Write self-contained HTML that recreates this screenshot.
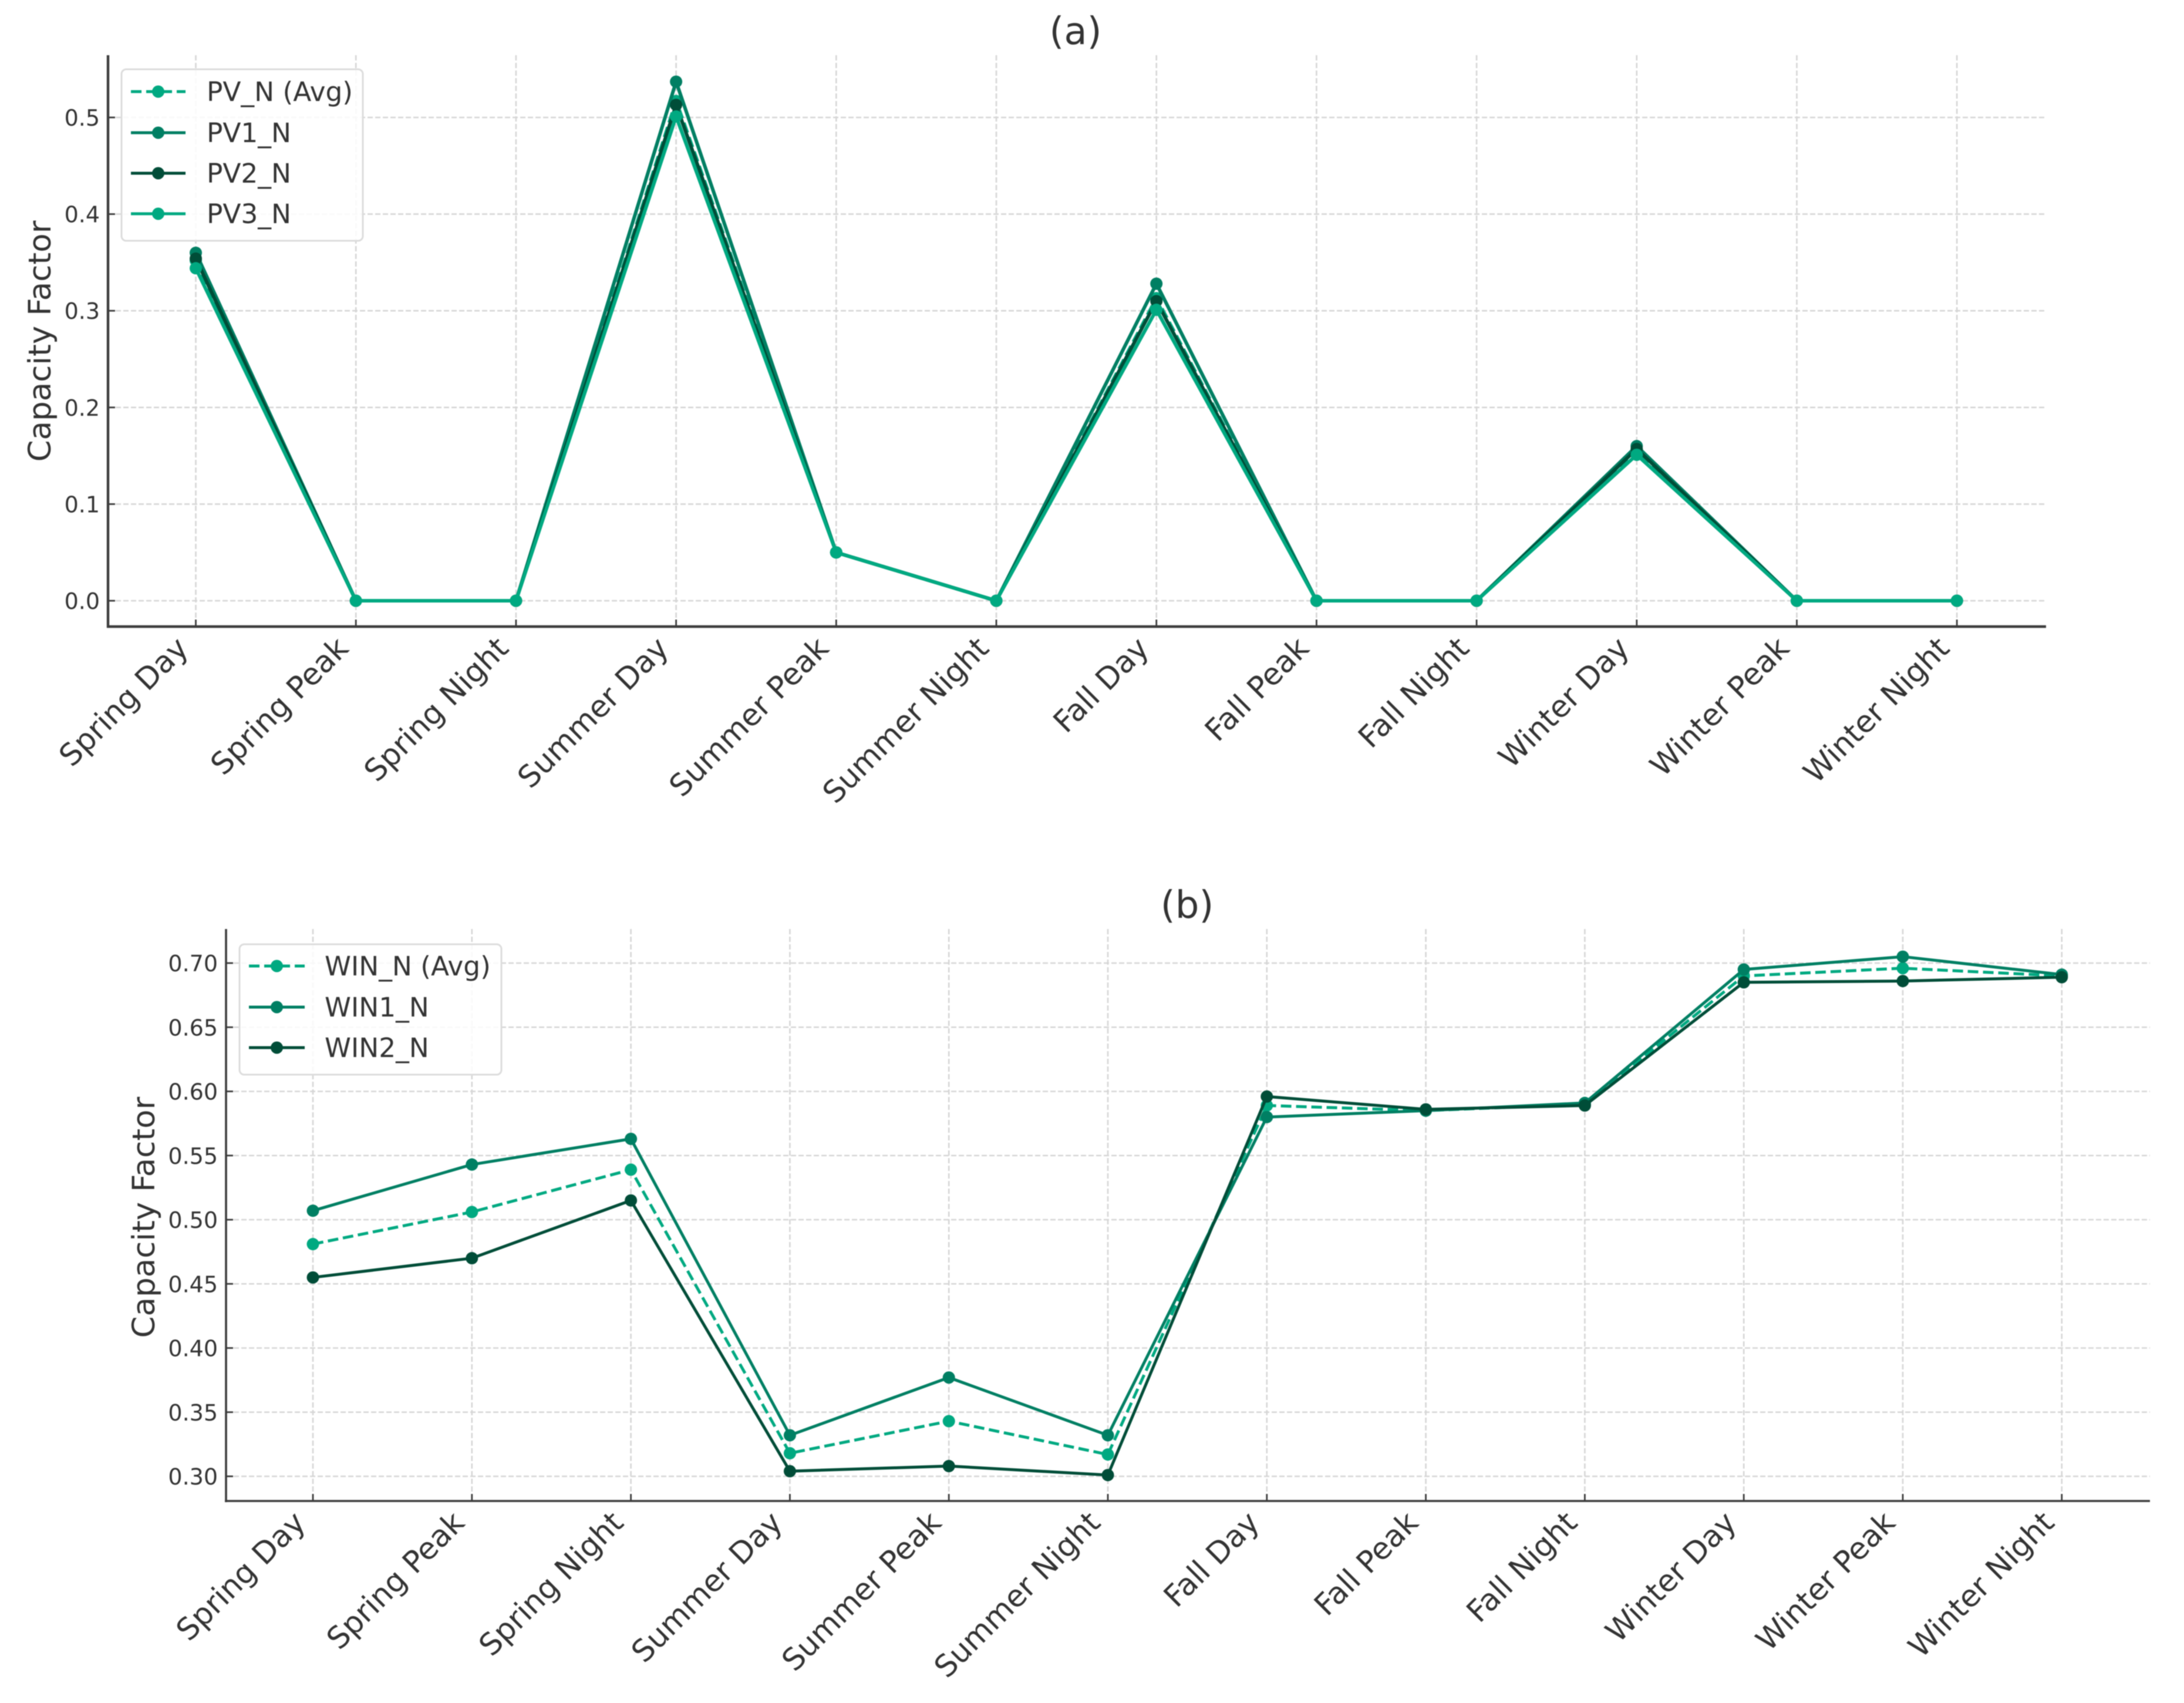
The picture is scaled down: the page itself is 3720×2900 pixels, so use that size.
<!DOCTYPE html>
<html lang="en">
<head>
<meta charset="utf-8">
<title>Capacity Factor Charts</title>
<style>
html,body{margin:0;padding:0;background:#fff;width:3720px;height:2900px;overflow:hidden}
svg{display:block;font-family:"DejaVu Sans","Liberation Sans",sans-serif;filter:blur(0.7px)}
</style>
</head>
<body>
<svg id="chart" xmlns="http://www.w3.org/2000/svg" width="3720" height="2900" viewBox="0 0 3720 2900">
<rect x="0" y="0" width="3720" height="2900" fill="#ffffff"/>
<g id="panel-a"></g>
<g id="panel-b"></g>
</svg>
<script>
const categories = ["Spring Day","Spring Peak","Spring Night","Summer Day","Summer Peak","Summer Night","Fall Day","Fall Peak","Fall Night","Winter Day","Winter Peak","Winter Night"];

const pvAvg = [0.352,0,0,0.517,0.05,0,0.313,0,0,0.156,0,0];
const pv1 = [0.360,0,0,0.537,0.05,0,0.328,0,0,0.160,0,0];
const pv2 = [0.354,0,0,0.513,0.05,0,0.310,0,0,0.157,0,0];
const pv3 = [0.344,0,0,0.501,0.05,0,0.301,0,0,0.151,0,0];
const pvTicks = [0,0.1,0.2,0.3,0.4,0.5];
const pvTickLabels = ["0.0","0.1","0.2","0.3","0.4","0.5"];

const winAvg = [0.481,0.506,0.539,0.318,0.343,0.317,0.589,0.585,0.590,0.690,0.696,0.690];
const win1 = [0.507,0.543,0.563,0.332,0.377,0.332,0.580,0.585,0.591,0.695,0.705,0.691];
const win2 = [0.455,0.470,0.515,0.304,0.308,0.301,0.596,0.586,0.589,0.685,0.686,0.689];
const winTicks = [0.30,0.35,0.40,0.45,0.50,0.55,0.60,0.65,0.70];
const winTickLabels = ["0.30","0.35","0.40","0.45","0.50","0.55","0.60","0.65","0.70"];

const NS = "http://www.w3.org/2000/svg";
const COL_AVG = "#00a981";
const COL_1 = "#007f63";
const COL_2 = "#004d38";
const COL_3 = "#00a981";

function mk(parent, tag, name) {
  const el = document.createElementNS(NS, tag);
  
  
  parent.appendChild(el);
  return el;
}

function drawPanel(cfg) {
  const g = document.getElementById(cfg.id);
  const xScale = i => cfg.x0 + i * cfg.dx;
  const yScale = v => cfg.y0 - (v - cfg.v0) * cfg.pxPerUnit;

  // vertical grid
  categories.forEach((c, i) => {
    const x = xScale(i);
    const gl = mk(g, 'line', 'x-gridline');
    gl.setAttribute('x1', x); gl.setAttribute('x2', x);
    gl.setAttribute('y1', cfg.top); gl.setAttribute('y2', cfg.bottom);
    gl.setAttribute('stroke', '#d6d6d6'); gl.setAttribute('stroke-width', '2.6');
    gl.setAttribute('stroke-dasharray', '9 4');
  });
  // horizontal grid
  cfg.ticks.forEach(t => {
    const y = yScale(t);
    const gl = mk(g, 'line', 'y-gridline');
    gl.setAttribute('x1', cfg.left); gl.setAttribute('x2', cfg.right);
    gl.setAttribute('y1', y); gl.setAttribute('y2', y);
    gl.setAttribute('stroke', '#d6d6d6'); gl.setAttribute('stroke-width', '2.6');
    gl.setAttribute('stroke-dasharray', '9 4');
  });

  // spines
  const sl = mk(g, 'line', 'y-axis-line');
  sl.setAttribute('x1', cfg.left); sl.setAttribute('x2', cfg.left);
  sl.setAttribute('y1', cfg.top); sl.setAttribute('y2', cfg.bottom + 2);
  sl.setAttribute('stroke', '#3c3c3c'); sl.setAttribute('stroke-width', cfg.axisWidth);
  const sb = mk(g, 'line', 'x-axis-line');
  sb.setAttribute('x1', cfg.left - 2); sb.setAttribute('x2', cfg.right);
  sb.setAttribute('y1', cfg.bottom); sb.setAttribute('y2', cfg.bottom);
  sb.setAttribute('stroke', '#3c3c3c'); sb.setAttribute('stroke-width', cfg.axisWidth);

  // x ticks and labels
  categories.forEach((c, i) => {
    const x = xScale(i);
    const tk = mk(g, 'line', 'x-tick');
    tk.setAttribute('x1', x); tk.setAttribute('x2', x);
    tk.setAttribute('y1', cfg.bottom - 12); tk.setAttribute('y2', cfg.bottom);
    tk.setAttribute('stroke', '#3c3c3c'); tk.setAttribute('stroke-width', '2.8');
    const tx = mk(g, 'text', 'x-tick-label');
    const ax = x - 10, ay = cfg.bottom + 40;
    tx.setAttribute('x', ax); tx.setAttribute('y', ay);
    tx.setAttribute('text-anchor', 'end');
    tx.setAttribute('transform', 'rotate(-45 ' + ax + ' ' + ay + ')');
    tx.setAttribute('font-size', cfg.xFont);
    tx.setAttribute('fill', '#333333');
    tx.textContent = c;
  });

  // y ticks and labels
  cfg.ticks.forEach((t, i) => {
    const y = yScale(t);
    const tk = mk(g, 'line', 'y-tick');
    tk.setAttribute('x1', cfg.left); tk.setAttribute('x2', cfg.left + 12);
    tk.setAttribute('y1', y); tk.setAttribute('y2', y);
    tk.setAttribute('stroke', '#3c3c3c'); tk.setAttribute('stroke-width', '2.8');
    const tx = mk(g, 'text', 'y-tick-label');
    tx.setAttribute('x', cfg.left - 14); tx.setAttribute('y', y + 14);
    tx.setAttribute('text-anchor', 'end');
    tx.setAttribute('font-size', '38');
    tx.setAttribute('fill', '#333333');
    tx.textContent = cfg.tickLabels[i];
  });

  // axis title
  const yl = mk(g, 'text', 'y-axis-title');
  yl.setAttribute('x', cfg.ylX); yl.setAttribute('y', cfg.ylY);
  yl.setAttribute('text-anchor', 'middle');
  yl.setAttribute('transform', 'rotate(-90 ' + cfg.ylX + ' ' + cfg.ylY + ')');
  yl.setAttribute('font-size', '53');
  yl.setAttribute('fill', '#333333');
  yl.textContent = 'Capacity Factor';

  // panel title
  const ti = mk(g, 'text', 'panel-title');
  ti.setAttribute('x', cfg.titleX); ti.setAttribute('y', cfg.titleY);
  ti.setAttribute('text-anchor', 'middle');
  ti.setAttribute('font-size', '64');
  ti.setAttribute('fill', '#333333');
  ti.textContent = cfg.title;

  // series
  cfg.series.forEach(s => {
    const pts = s.values.map((v, i) => xScale(i) + ',' + yScale(v)).join(' ');
    const pl = mk(g, 'polyline', 'series-line-' + s.key);
    pl.setAttribute('points', pts);
    pl.setAttribute('fill', 'none');
    pl.setAttribute('stroke', s.color);
    pl.setAttribute('stroke-width', cfg.lineWidth);
    pl.setAttribute('stroke-linejoin', 'round');
    if (s.dashed) pl.setAttribute('stroke-dasharray', '18 8');
    s.values.forEach((v, i) => {
      const c = mk(g, 'circle', 'series-point-' + s.key);
      c.setAttribute('cx', xScale(i));
      c.setAttribute('cy', yScale(v));
      c.setAttribute('r', '10.5');
      c.setAttribute('fill', s.color);
    });
  });

  // legend
  const L = cfg.legend;
  const lg = mk(g, 'g', 'legend');
  const box = mk(lg, 'rect', 'legend-frame');
  box.setAttribute('x', L.x); box.setAttribute('y', L.y);
  box.setAttribute('width', L.w); box.setAttribute('height', L.h);
  box.setAttribute('rx', '8'); box.setAttribute('ry', '8');
  box.setAttribute('fill', 'rgba(255,255,255,0.85)');
  box.setAttribute('stroke', '#dcdcdc'); box.setAttribute('stroke-width', '3');
  cfg.series.forEach((s, i) => {
    const y = L.rows[i];
    const ln = mk(lg, 'line', 'legend-line-' + s.key);
    ln.setAttribute('x1', L.lx1); ln.setAttribute('x2', L.lx2);
    ln.setAttribute('y1', y); ln.setAttribute('y2', y);
    ln.setAttribute('stroke', s.color); ln.setAttribute('stroke-width', '5');
    if (s.dashed) ln.setAttribute('stroke-dasharray', '18 8');
    const m = mk(lg, 'circle', 'legend-marker-' + s.key);
    m.setAttribute('cx', (L.lx1 + L.lx2) / 2); m.setAttribute('cy', y);
    m.setAttribute('r', '10.5'); m.setAttribute('fill', s.color);
    const t = mk(lg, 'text', 'legend-label-' + s.key);
    t.setAttribute('x', L.tx); t.setAttribute('y', y + 16);
    t.setAttribute('font-size', '45.4');
    t.setAttribute('fill', '#333333');
    t.textContent = s.label;
  });
}

drawPanel({
  id: 'panel-a', title: '(a)', titleX: 1832, titleY: 75,
  x0: 333.5, dx: 272.7, y0: 1023, v0: 0, pxPerUnit: 1646,
  left: 184, right: 3485, top: 94, bottom: 1067,
  ticks: pvTicks, tickLabels: pvTickLabels,
  ylX: 86, ylY: 581, xFont: 51.5, lineWidth: 6, axisWidth: 4.4,
  series: [
    {key:'pv-avg', label:'PV_N (Avg)', values:pvAvg, color:COL_AVG, dashed:true},
    {key:'pv1', label:'PV1_N', values:pv1, color:COL_1},
    {key:'pv2', label:'PV2_N', values:pv2, color:COL_2},
    {key:'pv3', label:'PV3_N', values:pv3, color:COL_3}
  ],
  legend: {x:207, y:118, w:411, h:292, rows:[156,226,295,364], lx1:223, lx2:316, tx:352}
});

drawPanel({
  id: 'panel-b', title: '(b)', titleX: 2022, titleY: 1563,
  x0: 533, dx: 270.8, y0: 2514, v0: 0.30, pxPerUnit: 2185,
  left: 385, right: 3662, top: 1582, bottom: 2556,
  ticks: winTicks, tickLabels: winTickLabels,
  ylX: 263, ylY: 2073, xFont: 51.5, lineWidth: 5, axisWidth: 3.6,
  series: [
    {key:'win-avg', label:'WIN_N (Avg)', values:winAvg, color:COL_AVG, dashed:true},
    {key:'win1', label:'WIN1_N', values:win1, color:COL_1},
    {key:'win2', label:'WIN2_N', values:win2, color:COL_2}
  ],
  legend: {x:408, y:1608, w:446, h:222, rows:[1645,1715,1784], lx1:424, lx2:519, tx:553}
});
</script>
</body>
</html>
